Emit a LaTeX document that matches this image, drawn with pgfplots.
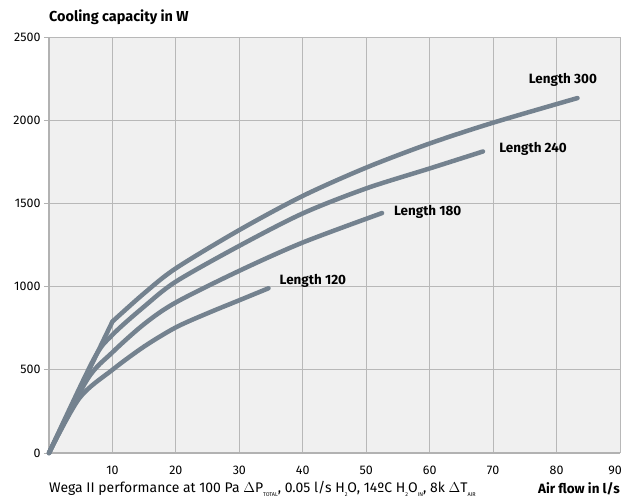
\documentclass[border=0pt]{standalone}
\usepackage{fontspec}
\setmainfont{Fira Sans}
\usepackage{pgfplots}
\pgfplotsset{compat=1.18}

\definecolor{curve}{RGB}{116,130,143}
\definecolor{bg}{RGB}{240,240,240}
\definecolor{gridc}{RGB}{184,184,184}
\definecolor{axisc}{RGB}{178,178,178}

\newcommand{\sub}[1]{\raisebox{-0.6ex}{\fontsize{5.5}{6}\selectfont #1}}

\tikzset{perf/.style={curve, line width=4.5bp, line cap=round, line join=round, smooth, tension=0.5, mark=none}}

\begin{document}
\begin{tikzpicture}[font=\fontsize{12.5}{14}\selectfont]
\begin{axis}[
    scale only axis,
    width=571bp, height=416bp,
    xmin=0, xmax=90, ymin=0, ymax=2500,
    xtick={10,20,...,90},
    xticklabels={10,20,30,40,50,60,70,80,{\hspace*{-10bp}90}},
    ytick={0,500,...,2500},
    grid=major,
    grid style={gridc, line width=0.8pt},
    axis background/.style={fill=bg},
    axis lines=left,
    axis line style={-, axisc, line width=1.6pt},
    xtick style={draw=none},
    ytick style={axisc, line width=0.8pt},
    tick align=outside,
    major tick length=5bp,
    x tick label style={yshift=-5bp},
    /pgf/number format/assume math mode=true,
    /pgf/number format/1000 sep={},
    clip=false,
]
% Length 120
\addplot[perf] coordinates {
    (0,0) (4.8,330) (10,500) (15,640) (20,755) (25,840) (30,918) (34.6,990)
};
% Length 180
\addplot[perf] coordinates {
    (0,0) (6,440) (10,605) (15,775) (20,905) (30,1095) (40,1265) (52.5,1442)
};
% Length 240
\addplot[perf] coordinates {
    (0,0) (7,560) (10,710) (15,880) (20,1030) (30,1245) (40,1440) (50,1590) (60,1710) (68.4,1812)
};
% Length 300: straight rise, then a bend at 10 l/s
\addplot[perf, sharp plot] coordinates {
    (0,0) (10,790)
};
\addplot[perf] coordinates {
    (10,790) (15,960) (20,1110) (30,1340) (40,1545) (50,1715) (60,1860) (70,1985) (83.3,2133)
};

\node[font=\fontsize{13.5}{15}\selectfont\bfseries] at (axis cs:81.0,2241) {Length 300};
\node[font=\fontsize{13.5}{15}\selectfont\bfseries] at (axis cs:76.3,1827) {Length 240};
\node[font=\fontsize{13.5}{15}\selectfont\bfseries] at (axis cs:59.7,1448) {Length 180};
\node[font=\fontsize{13.5}{15}\selectfont\bfseries] at (axis cs:41.6,1034) {Length 120};

\node[anchor=west, inner sep=0pt, font=\fontsize{14.5}{16}\selectfont\bfseries]
    at ([yshift=20bp]rel axis cs:0,1) {Cooling capacity in W};
\node[anchor=west, inner sep=0pt, font=\fontsize{14}{16}\selectfont]
    at ([yshift=-36bp]rel axis cs:0,0)
    {Wega II performance at 100 Pa $\Delta$P\sub{TOTAL}, 0.05 l/s H\sub{2}O, 14ºC H\sub{2}O\sub{IN}, 8k $\Delta$T\sub{AIR}};
\node[anchor=east, inner sep=0pt, font=\fontsize{13.5}{15}\selectfont\bfseries]
    at ([yshift=-36bp]rel axis cs:1,0) {Air flow in l/s};
\end{axis}
\pgfresetboundingbox
\path (-49bp,-51bp) rectangle (574bp,453bp);
\end{tikzpicture}
\end{document}
